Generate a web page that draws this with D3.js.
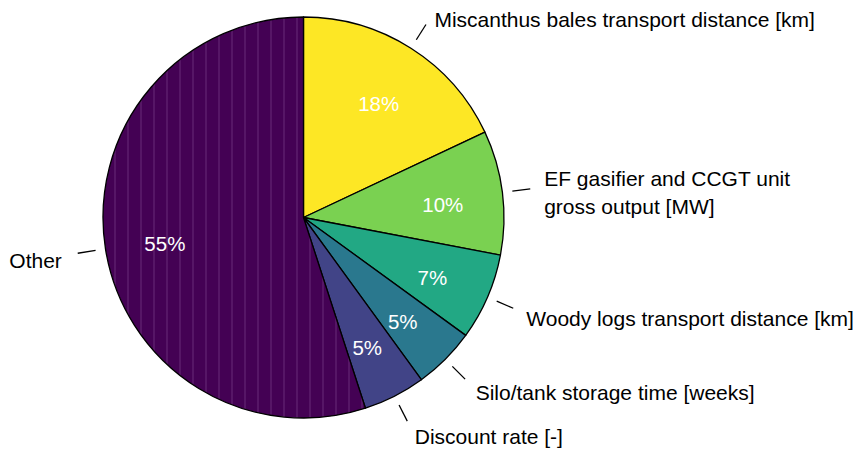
<!DOCTYPE html>
<html>
<head>
<meta charset="utf-8">
<script src="https://cdn.jsdelivr.net/npm/d3@7"></script>
<style>
  html, body { margin: 0; padding: 0; background: #ffffff; }
  svg { display: block; }
  text { font-family: "Liberation Sans", Arial, Helvetica, sans-serif; }
</style>
</head>
<body>
<svg id="chart" width="856" height="452"></svg>
<script>
// Share of each input parameter (percent), clockwise from 12 o'clock
const categories = [
  ["Miscanthus bales transport distance [km]"],
  ["EF gasifier and CCGT unit", "gross output [MW]"],
  ["Woody logs transport distance [km]"],
  ["Silo/tank storage time [weeks]"],
  ["Discount rate [-]"],
  ["Other"]
];
const shares = [18, 10, 7, 5, 5, 55];
const percentLabels = ["18%", "10%", "7%", "5%", "5%", "55%"];
const sliceColors = ["#fde725", "#7ad151", "#22a884", "#2a788e", "#414487", "#440154"];

const W = 856, H = 452;
const cx = 303.5, cy = 217.5, R = 200.5;

const svg = d3.select("#chart");

// faint vertical streaks inside the large slice
const defs = svg.append("defs");
const pat = defs.append("pattern")
  .attr("id", "streaks")
  .attr("patternUnits", "userSpaceOnUse")
  .attr("width", 13).attr("height", 40);
pat.append("rect").attr("width", 13).attr("height", 40).attr("fill", sliceColors[5]);
pat.append("line")
  .attr("x1", 6.5).attr("x2", 6.5).attr("y1", 0).attr("y2", 40)
  .attr("stroke", "#9a6aaa").attr("stroke-opacity", 0.45).attr("stroke-width", 0.9);

const g = svg.append("g").attr("transform", `translate(${cx},${cy})`);

const pie = d3.pie().sort(null).value(d => d).startAngle(0).endAngle(2 * Math.PI);
const arcs = pie(shares);

const arc = d3.arc().innerRadius(0).outerRadius(R);
const labelArc = d3.arc().innerRadius(R * 0.7).outerRadius(R * 0.7);

g.selectAll("path.slice")
  .data(arcs)
  .join("path")
  .attr("class", "slice")
  .attr("d", arc)
  .attr("fill", (d, i) => i === 5 ? "url(#streaks)" : sliceColors[i])
  .attr("stroke", "#000")
  .attr("stroke-width", 1.3)
  .attr("stroke-linejoin", "round");

// percentage labels inside slices
g.selectAll("text.pct")
  .data(arcs)
  .join("text")
  .attr("class", "pct")
  .attr("transform", d => {
    const [x, y] = labelArc.centroid(d);
    return `translate(${x},${y + 4.5})`;
  })
  .attr("text-anchor", "middle")
  .attr("dominant-baseline", "central")
  .attr("fill", "#ffffff")
  .attr("font-size", 20.5)
  .text((d, i) => percentLabels[i]);

const mid = d => (d.startAngle + d.endAngle) / 2;
const polar = (a, r) => [Math.sin(a) * r, -Math.cos(a) * r];

// short leader ticks
g.selectAll("line.tick")
  .data(arcs)
  .join("line")
  .attr("class", "tick")
  .attr("x1", d => polar(mid(d), R * 1.05)[0])
  .attr("y1", d => polar(mid(d), R * 1.05)[1])
  .attr("x2", d => polar(mid(d), R * 1.14)[0])
  .attr("y2", d => polar(mid(d), R * 1.14)[1])
  .attr("stroke", "#000")
  .attr("stroke-width", 1.3);

// category labels outside the pie
const lineH = 28;
g.selectAll("text.name")
  .data(arcs)
  .join("text")
  .attr("class", "name")
  .attr("font-size", 21)
  .attr("fill", "#000")
  .attr("text-anchor", d => mid(d) < Math.PI ? "start" : "end")
  .each(function(d, i) {
    const right = mid(d) < Math.PI;
    const [x0, y] = polar(mid(d), R * 1.2);
    const x = x0 + (right ? 2 : -4);
    const lines = categories[i];
    const top = y + 5 - (lines.length - 1) * lineH / 2;
    d3.select(this).selectAll("tspan")
      .data(lines)
      .join("tspan")
      .attr("x", x)
      .attr("y", (t, k) => top + k * lineH)
      .attr("dominant-baseline", "central")
      .text(t => t);
  });
</script>
</body>
</html>
